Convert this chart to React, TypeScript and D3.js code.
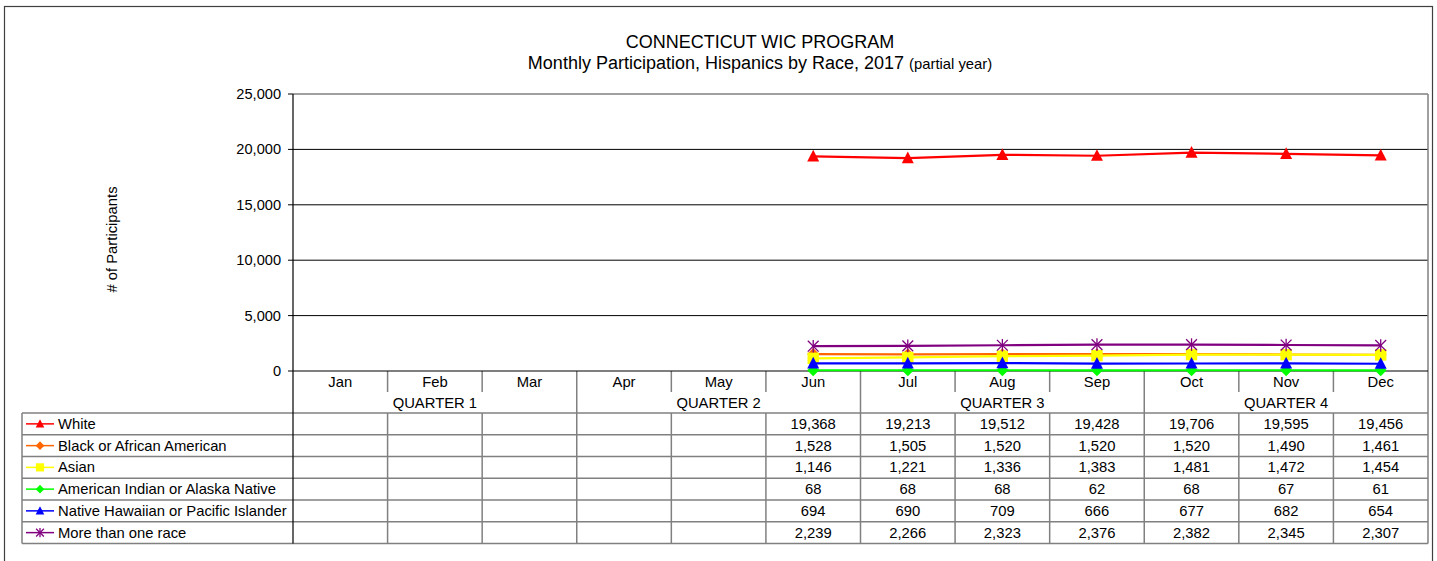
import * as React from 'react';
import * as d3 from 'd3';

const months = ['Jan', 'Feb', 'Mar', 'Apr', 'May', 'Jun', 'Jul', 'Aug', 'Sep', 'Oct', 'Nov', 'Dec'];
const quarters = ['QUARTER 1', 'QUARTER 2', 'QUARTER 3', 'QUARTER 4'];
const yTicks = [0, 5000, 10000, 15000, 20000, 25000];

// values start at Jun (partial year)
const white = [null, null, null, null, null, 19368, 19213, 19512, 19428, 19706, 19595, 19456];
const black = [null, null, null, null, null, 1528, 1505, 1520, 1520, 1520, 1490, 1461];
const asian = [null, null, null, null, null, 1146, 1221, 1336, 1383, 1481, 1472, 1454];
const amIndian = [null, null, null, null, null, 68, 68, 68, 62, 68, 67, 61];
const hawaiian = [null, null, null, null, null, 694, 690, 709, 666, 677, 682, 654];
const multiRace = [null, null, null, null, null, 2239, 2266, 2323, 2376, 2382, 2345, 2307];

type Marker = 'triangle' | 'diamond' | 'square' | 'star';

interface Series {
  name: string;
  values: (number | null)[];
  color: string;
  marker: Marker;
}

const series: Series[] = [
  { name: 'White', values: white, color: '#FF0000', marker: 'triangle' },
  { name: 'Black or African American', values: black, color: '#FF6600', marker: 'diamond' },
  { name: 'Asian', values: asian, color: '#FFFF00', marker: 'square' },
  { name: 'American Indian or Alaska Native', values: amIndian, color: '#00FF00', marker: 'diamond' },
  { name: 'Native Hawaiian or Pacific Islander', values: hawaiian, color: '#0000FF', marker: 'triangle' },
  { name: 'More than one race', values: multiRace, color: '#800080', marker: 'star' },
];

const W = 1437;
const H = 561;
const plot = { left: 293, right: 1428, top: 94, bottom: 371 };
const tableLeft = 22;
const rowH = 21.75;
const monthRowBottom = 392;
const dataTop = 413;
const font = 'Arial, "Liberation Sans", sans-serif';
const gridGray = '#808080';
const fs = 14.8;

const fmt = d3.format(',');

// r = half size of the marker
function MarkerShape(props: { type: Marker; x: number; y: number; color: string; r: number }) {
  const { type, x, y, color, r } = props;
  if (type === 'triangle') {
    return <path d={`M${x},${y - r * 1.1}L${x + r},${y + r * 0.85}L${x - r},${y + r * 0.85}Z`} fill={color} />;
  }
  if (type === 'diamond') {
    return <path d={`M${x},${y - r}L${x + r},${y}L${x},${y + r}L${x - r},${y}Z`} fill={color} />;
  }
  if (type === 'square') {
    return <rect x={x - r * 0.95} y={y - r * 0.95} width={r * 1.9} height={r * 1.9} fill={color} />;
  }
  return (
    <g stroke={color} strokeWidth={1.3}>
      <line x1={x} y1={y - r * 1.05} x2={x} y2={y + r * 1.05} />
      <line x1={x - r * 0.9} y1={y - r * 0.9} x2={x + r * 0.9} y2={y + r * 0.9} />
      <line x1={x - r * 0.9} y1={y + r * 0.9} x2={x + r * 0.9} y2={y - r * 0.9} />
    </g>
  );
}

export default function App() {
  const x = d3.scaleBand<string>().domain(months).range([plot.left, plot.right]);
  const y = d3.scaleLinear().domain([0, 25000]).range([plot.bottom, plot.top]);
  const bw = x.bandwidth();
  const cx = (m: string) => (x(m) as number) + bw / 2;

  const line = d3
    .line<number | null>()
    .defined((d) => d !== null)
    .x((_, i) => cx(months[i]))
    .y((d) => y(d as number));

  const rowY = (i: number) => dataTop + i * rowH;

  return (
    <svg
      width={W}
      height={H}
      style={{ position: 'absolute', left: 0, top: 0, background: '#fff' }}
      fontFamily={font}
    >
      {/* outer frame */}
      <rect x={4.5} y={6.5} width={1428} height={600} fill="none" stroke="#404040" strokeWidth={1.2} />

      {/* titles */}
      <text x={760} y={48} textAnchor="middle" fontSize={18} fill="#000">
        CONNECTICUT WIC PROGRAM
      </text>
      <text x={760} y={69} textAnchor="middle" fill="#000">
        <tspan fontSize={18}>Monthly Participation, Hispanics by Race, 2017 </tspan>
        <tspan fontSize={14.8}>(partial year)</tspan>
      </text>

      {/* y axis label */}
      <text
        transform={`translate(117, ${(plot.top + plot.bottom) / 2 + 7}) rotate(-90)`}
        textAnchor="middle"
        fontSize={fs}
        fill="#000"
      >
        # of Participants
      </text>

      {/* gridlines */}
      {yTicks.slice(1, -1).map((t) => (
        <line key={t} x1={plot.left} x2={plot.right} y1={y(t)} y2={y(t)} stroke="#000" strokeWidth={1} />
      ))}
      <line x1={plot.left} x2={plot.right} y1={plot.top} y2={plot.top} stroke={gridGray} strokeWidth={1.5} />
      <line x1={plot.right} x2={plot.right} y1={plot.top} y2={rowY(6)} stroke={gridGray} strokeWidth={1.5} />

      {/* y ticks */}
      {yTicks.map((t) => (
        <g key={t}>
          <line x1={plot.left - 5} x2={plot.left} y1={y(t)} y2={y(t)} stroke="#000" />
          <text x={plot.left - 12} y={y(t) + 5} textAnchor="end" fontSize={14.6} fill="#000">
            {fmt(t)}
          </text>
        </g>
      ))}

      {/* table: month row */}
      {months.map((m, i) => (
        <g key={m}>
          {i > 0 && (
            <line x1={x(m)} x2={x(m)} y1={plot.bottom} y2={monthRowBottom} stroke={gridGray} strokeWidth={1.5} />
          )}
          <text x={cx(m)} y={387} textAnchor="middle" fontSize={fs} fill="#000">
            {m}
          </text>
        </g>
      ))}

      {/* quarter row */}
      {quarters.map((q, i) => {
        const start = x(months[i * 3]) as number;
        const mid = cx(months[i * 3 + 1]);
        return (
          <g key={q}>
            {i > 0 && (
              <line x1={start} x2={start} y1={monthRowBottom} y2={dataTop} stroke={gridGray} strokeWidth={1.5} />
            )}
            <text x={mid} y={408} textAnchor="middle" fontSize={fs} fill="#000">
              {q}
            </text>
          </g>
        );
      })}

      {/* data rows */}
      {d3.range(7).map((i) => (
        <line key={i} x1={tableLeft} x2={plot.right} y1={rowY(i)} y2={rowY(i)} stroke={gridGray} strokeWidth={1.5} />
      ))}
      <line x1={tableLeft} x2={tableLeft} y1={rowY(0)} y2={rowY(6)} stroke={gridGray} strokeWidth={1.5} />
      {months.slice(1).map((m) => (
        <line key={m} x1={x(m)} x2={x(m)} y1={rowY(0)} y2={rowY(6)} stroke={gridGray} strokeWidth={1.5} />
      ))}
      {series.map((s, i) => {
        const ry = rowY(i) + rowH / 2;
        return (
          <g key={s.name}>
            <line x1={26} x2={54} y1={ry} y2={ry} stroke={s.color} strokeWidth={1.5} />
            <MarkerShape type={s.marker} x={40} y={ry} color={s.color} r={4.3} />
            <text x={58} y={ry + 5} fontSize={fs} fill="#000">
              {s.name}
            </text>
            {s.values.map((v, j) =>
              v === null ? null : (
                <text key={j} x={cx(months[j])} y={ry + 5} textAnchor="middle" fontSize={fs} fill="#000">
                  {fmt(v)}
                </text>
              )
            )}
          </g>
        );
      })}

      {/* axes */}
      <line x1={plot.left} x2={plot.left} y1={plot.top} y2={rowY(6)} stroke="#000" strokeWidth={1.2} />
      <line x1={plot.left} x2={plot.right} y1={plot.bottom} y2={plot.bottom} stroke="#000" strokeWidth={1.2} />

      {/* series lines */}
      {series.map((s) => (
        <g key={s.name}>
          <path d={line(s.values) || ''} fill="none" stroke={s.color} strokeWidth={2.2} />
          {s.values.map((v, j) =>
            v === null ? null : (
              <MarkerShape key={j} type={s.marker} x={cx(months[j])} y={y(v)} color={s.color} r={6} />
            )
          )}
        </g>
      ))}
    </svg>
  );
}
